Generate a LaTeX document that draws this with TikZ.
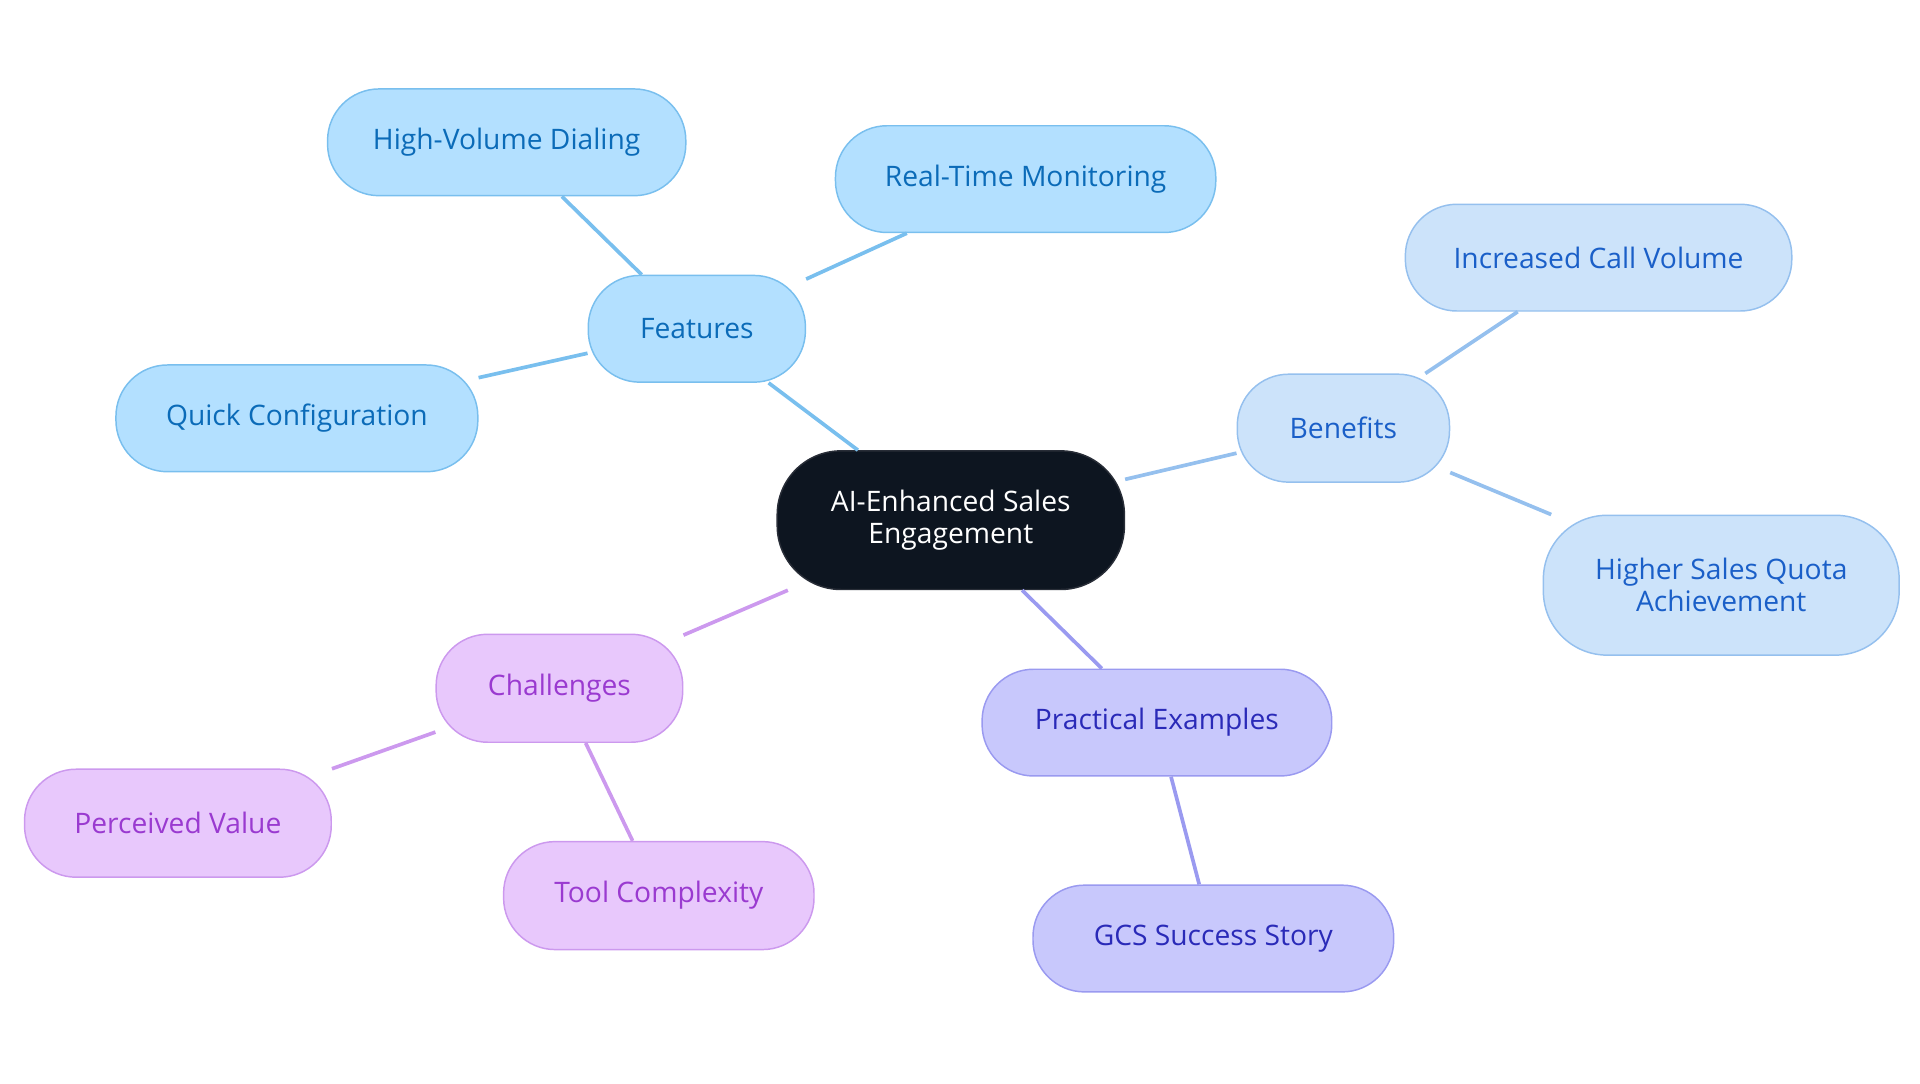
\documentclass[tikz,border=0pt]{standalone}
\usepackage{fontspec}
\setmainfont{Open Sans}
\begin{document}
\begin{tikzpicture}[x=0.5pt,y=-0.5pt,
 box/.style={draw,line width=0.6pt,rounded corners=21pt,align=center,font=\fontsize{11.5}{13}\selectfont,inner sep=0pt},
 feat/.style={box,fill=featF,draw=featD,text=featT},
 ben/.style={box,fill=benF,draw=benD,text=benT},
 prac/.style={box,fill=pracF,draw=pracD,text=pracT},
 chal/.style={box,fill=chalF,draw=chalD,text=chalT},
 e/.style={line width=1.5pt}]
\definecolor{featF}{HTML}{B3E0FF}\definecolor{featD}{HTML}{79BFEE}\definecolor{featT}{HTML}{0B6BB8}
\definecolor{benF}{HTML}{CCE3FA}\definecolor{benD}{HTML}{95C0EE}\definecolor{benT}{HTML}{1A5FC8}
\definecolor{pracF}{HTML}{C8C8FC}\definecolor{pracD}{HTML}{9A9AF0}\definecolor{pracT}{HTML}{2A2AB8}
\definecolor{chalF}{HTML}{E8C8FC}\definecolor{chalD}{HTML}{CC99EE}\definecolor{chalT}{HTML}{9A3AD0}
\useasboundingbox (0,0) rectangle (1565,883);
\node[box,fill={rgb,255:red,13;green,21;blue,32},draw={rgb,255:red,40;green,45;blue,55},text=white,minimum width=141.5pt,minimum height=56.5pt,rounded corners=26pt] (c) at (775,424) {AI-Enhanced Sales\\Engagement};
\node[feat,minimum width=88.5pt,minimum height=43.5pt] (f) at (568,268) {Features};
\node[feat,minimum width=146pt,minimum height=43.5pt] (f1) at (413,116) {High-Volume Dialing};
\node[feat,minimum width=155pt,minimum height=43.5pt] (f2) at (836,146) {Real-Time Monitoring};
\node[feat,minimum width=147.5pt,minimum height=43.5pt] (f3) at (242,341) {Quick Configuration};
\node[ben,minimum width=86.5pt,minimum height=44pt] (b) at (1095,349) {Benefits};
\node[ben,minimum width=157.5pt,minimum height=43.5pt] (b1) at (1303,210) {Increased Call Volume};
\node[ben,minimum width=145pt,minimum height=57pt,rounded corners=26pt] (b2) at (1403,477) {Higher Sales Quota\\Achievement};
\node[prac,minimum width=142.5pt,minimum height=43.5pt] (p) at (943,589) {Practical Examples};
\node[prac,minimum width=147pt,minimum height=43.5pt] (p1) at (989,765) {GCS Success Story};
\node[chal,minimum width=100.5pt,minimum height=44pt] (h) at (456,561) {Challenges};
\node[chal,minimum width=125pt,minimum height=44pt] (h1) at (145,671) {Perceived Value};
\node[chal,minimum width=126.5pt,minimum height=44pt] (h2) at (537,730) {Tool Complexity};
\draw[e,featD] (c) -- (f);
\draw[e,featD] (f) -- (f1);
\draw[e,featD] (f) -- (f2);
\draw[e,featD] (f) -- (f3);
\draw[e,benD] (c) -- (b);
\draw[e,benD] (b) -- (b1);
\draw[e,benD] (b) -- (b2);
\draw[e,pracD] (c) -- (p);
\draw[e,pracD] (p) -- (p1);
\draw[e,chalD] (c) -- (h);
\draw[e,chalD] (h) -- (h1);
\draw[e,chalD] (h) -- (h2);
\end{tikzpicture}
\end{document}
